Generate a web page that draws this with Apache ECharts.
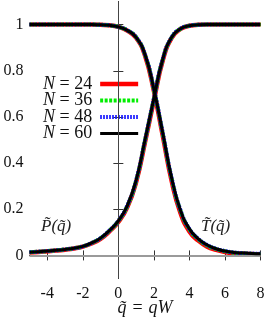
<!DOCTYPE html>
<html><head><meta charset="utf-8">
<script src="https://cdn.jsdelivr.net/npm/echarts@6/dist/echarts.min.js"></script>
<style>html,body{margin:0;padding:0;background:#fff}#c{width:267px;height:321px}</style>
</head><body><div id="c"></div>
<script>
// q values shared by all curves
const qValues = [-5,-4.5,-4,-3.5,-3,-2.5,-2,-1.5,-1,-0.5,0,0.5,1,1.5,2,2.5,3,3.5,4,4.5,5,5.5,6,6.5,7,7.5,8];
const seriesNames = ['N = 24','N = 36','N = 48','N = 60'];
// P(q) for each N
const P24 = [0.013,0.015,0.018,0.021,0.025,0.030,0.038,0.052,0.072,0.104,0.145,0.208,0.317,0.49,0.672,0.845,0.942,0.981,0.995,0.999,1,1,1,1,1,1,1];
const P36 = [0.014,0.016,0.019,0.022,0.026,0.031,0.039,0.054,0.075,0.107,0.149,0.213,0.323,0.497,0.678,0.849,0.944,0.982,0.995,0.999,1,1,1,1,1,1,1];
const P48 = [0.014,0.016,0.019,0.022,0.026,0.031,0.039,0.054,0.075,0.108,0.150,0.215,0.325,0.499,0.679,0.850,0.945,0.982,0.995,0.999,1,1,1,1,1,1,1];
const P60 = [0.014,0.016,0.019,0.022,0.026,0.031,0.039,0.054,0.075,0.108,0.150,0.215,0.325,0.500,0.680,0.850,0.945,0.982,0.995,0.999,1,1,1,1,1,1,1];
// T(q) for each N
const T24 = [1,1,1,1,1,1,1,1,0.999,0.997,0.99,0.974,0.943,0.866,0.712,0.518,0.322,0.183,0.104,0.064,0.038,0.024,0.015,0.010,0.008,0.006,0.005];
const T36 = [1,1,1,1,1,1,1,1,0.999,0.997,0.99,0.975,0.945,0.869,0.718,0.527,0.332,0.193,0.112,0.070,0.043,0.028,0.018,0.012,0.009,0.007,0.006];
const T48 = [1,1,1,1,1,1,1,1,0.999,0.997,0.99,0.975,0.945,0.870,0.720,0.530,0.335,0.195,0.114,0.072,0.045,0.029,0.019,0.013,0.010,0.008,0.007];
const T60 = [1,1,1,1,1,1,1,1,0.999,0.997,0.99,0.975,0.945,0.870,0.720,0.530,0.335,0.195,0.115,0.072,0.045,0.029,0.019,0.013,0.010,0.008,0.007];
const xTicks = [-4,-2,0,2,4,6,8];
const yTicks = [0,0.2,0.4,0.6,0.8,1];

const serif = 'Liberation Serif';
const styles = [
  {color:'#ff0000', width:4.5, type:'solid'},
  {color:'#00ee00', width:4, type:[3,1.5]},
  {color:'#1a1aff', width:4, type:[1.7,1.3]},
  {color:'#000000', width:3, type:'solid'}
];
const Ps = [P24,P36,P48,P60], Ts = [T24,T36,T48,T60];
const pair = (arr) => qValues.map((q,i)=>[q,arr[i]]);
const series = [];
seriesNames.forEach((nm,k)=>{
  [Ps[k],Ts[k]].forEach((arr,j)=>{
    const s = {
      name:nm, type:'line', data:pair(arr), symbol:'none', smooth:0.5,
      lineStyle:{color:styles[k].color,width:styles[k].width,type:styles[k].type},
      itemStyle:{color:styles[k].color}, z:2+k, silent:true, animation:false
    };
    if(k===0 && j===0){
      s.markLine = {silent:true, symbol:'none', animation:false, label:{show:false},
        data:[{xAxis:0, lineStyle:{color:'#444',width:1,type:'solid'}},
              {yAxis:0, lineStyle:{color:'#9a9a9a',width:2,type:'solid'}}]};
    }
    series.push(s);
  });
});
const legendWidths = [4.5, 4, 4, 3];
const legendData = seriesNames.map((nm,k)=>({name:nm,
  lineStyle:{width:legendWidths[k], color:styles[k].color, type:styles[k].type}}));

const axisCommon = {
  type:'value', axisLine:{show:true, lineStyle:{color:'#333',width:1}},
  splitLine:{show:false}
};
const chart = echarts.init(document.getElementById('c'));
chart.setOption({
  animation:false,
  backgroundColor:'#fff',
  grid:{left:29.5, right:6.5, top:1.5, bottom:42.5, containLabel:false, outerBoundsMode:'none'},
  legend:{
    data:legendData, orient:'vertical', left:38, top:70, align:'right',
    itemWidth:38, itemHeight:14, itemGap:-1.5, selectedMode:false,
    itemStyle:{opacity:0},
    formatter: n => '{i|N}' + n.slice(1),
    textStyle:{fontFamily:serif, fontSize:18, lineHeight:15, color:'#111', padding:[0,3,0,0],
      rich:{i:{fontFamily:serif, fontStyle:'italic', fontSize:18, lineHeight:15, color:'#111'}}}
  },
  xAxis:[
    Object.assign({}, axisCommon, {min:-5, max:8, position:'bottom',
      axisTick:{show:true, inside:true, length:5, customValues:xTicks, lineStyle:{color:'#333'}},
      axisLabel:{show:true, customValues:xTicks, fontFamily:serif, fontSize:16, color:'#111', margin:7},
      name:'{i|q\u0303}{e|=}{i|qW}', nameLocation:'middle', nameGap:21, nameMoveOverlap:false,
      nameTextStyle:{fontFamily:serif, fontSize:18, color:'#111',
        rich:{i:{fontFamily:serif, fontStyle:'italic', fontSize:18, color:'#111'},
              e:{fontFamily:serif, fontSize:18, color:'#111', padding:[0,6,0,6]}}}}),
    Object.assign({}, axisCommon, {min:-5, max:8, position:'top',
      axisTick:{show:true, inside:true, length:5, customValues:xTicks, lineStyle:{color:'#333'}},
      axisLabel:{show:false}})
  ],
  yAxis:[
    Object.assign({}, axisCommon, {min:-0.1, max:1.1, position:'left',
      axisTick:{show:true, inside:true, length:5, customValues:yTicks, lineStyle:{color:'#333'}},
      axisLabel:{show:true, customValues:yTicks, fontFamily:serif, fontSize:16, color:'#111', margin:6}}),
    Object.assign({}, axisCommon, {min:-0.1, max:1.1, position:'right',
      axisTick:{show:true, inside:true, length:5, customValues:yTicks, lineStyle:{color:'#333'}},
      axisLabel:{show:false}})
  ],
  graphic:[
    {type:'text', left:41, top:218, style:{text:'P\u0303(q\u0303)', font:'italic 17px "Liberation Serif"', fill:'#222'}},
    {type:'text', left:201, top:218, style:{text:'T\u0303(q\u0303)', font:'italic 17px "Liberation Serif"', fill:'#222'}}
  ],
  series: series
});
</script></body></html>
